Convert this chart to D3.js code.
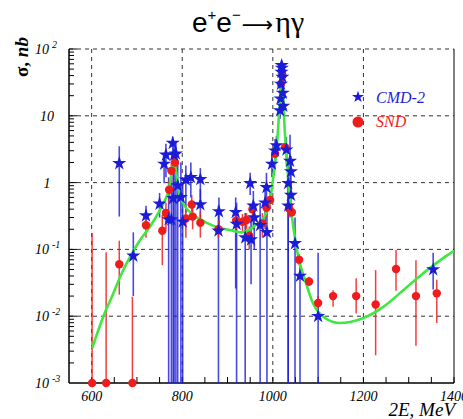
<!DOCTYPE html>
<html lang="en">
<head>
<meta charset="UTF-8">
<title>e+e- to eta gamma</title>
<script src="https://d3js.org/d3.v7.min.js"></script>
<style>
  body { margin: 0; background: #fff; }
  svg { display: block; }
  .tick-label { font-family: "Liberation Serif", serif; font-style: italic; font-size: 14px; fill: #000; }
</style>
</head>
<body>
<svg id="chart" width="463" height="419"></svg>
<script>
// CMD-2 points: energy (MeV), cross section (nb), error bar low / high (0 = down to axis)
const cmdE  = [661, 692, 720, 750, 760, 764, 770, 776, 779, 782, 786, 780, 790, 797, 801, 808, 819, 840, 840, 881, 880,
               918, 920, 939, 950, 952, 957, 959, 972, 983, 986, 987, 998, 1005, 1008,
               1016, 1017, 1018, 1019, 1019.5, 1020, 1021, 1022, 1023,
               1030, 1034, 1038, 1040, 1040, 1034, 1049, 1060, 1100, 1354];
const cmdS  = [1.94, 0.08, 0.32, 0.48, 1.9, 2.6, 0.28, 0.28, 3.9, 2.6, 2.7, 0.58, 0.9, 0.6, 0.26, 1.1, 1.2, 1.12, 0.47, 0.37, 0.19,
               0.36, 0.24, 0.15, 0.98, 0.14, 0.45, 0.30, 0.23, 0.5, 0.85, 0.18, 1.9, 3.0, 3.6,
               12, 18, 30, 45, 57, 52, 38, 22, 14,
               3.1, 0.98, 2.1, 1.46, 0.65, 0.45, 0.123, 0.04, 0.01, 0.05];
const cmdLo = [0.31, 0.02, 0.2, 0.3, 0.98, 1.2, 0, 0, 1.8, 0, 0, 0, 0, 0, 0, 0.35, 0.6, 0.58, 0.25, 0.2, 0,
               0.026, 0, 0, 0.65, 0.03, 0.2, 0.1, 0, 0.2, 0.4, 0, 1.2, 1.8, 2.4,
               9, 14, 25, 38, 50, 45, 32, 18, 11,
               1.8, 0, 1.0, 0.8, 0.3, 0, 0, 0, 0, 0.025];
const cmdHi = [3.5, 0.18, 0.45, 0.7, 2.8, 3.8, 1.2, 1.0, 4.9, 4, 4, 1.5, 2, 2, 1.0, 1.8, 2.0, 1.65, 0.8, 0.6, 0.45,
               0.6, 0.5, 0.35, 1.4, 0.3, 0.75, 0.5, 0.5, 0.85, 1.4, 0.45, 2.8, 4.5, 5,
               15, 22, 36, 52, 64, 60, 45, 27, 17,
               4.8, 2, 5.2, 2.5, 1.0, 0.9, 0.3, 0.06, 0.089, 0.089];

// SND points
const sndE  = [601, 632, 690, 661, 720, 756, 764, 771, 776, 784, 808, 821, 823, 840, 880,
               919, 933, 942, 948, 955, 977, 986, 994, 1005, 1018, 1021, 1027, 1036, 1042,
               1058, 1080, 1100, 1133, 1184, 1227, 1272, 1316, 1362];
const sndS  = [0.001, 0.001, 0.001, 0.06, 0.23, 0.19, 0.35, 0.78, 1.5, 2.0, 0.29, 0.47, 0.31, 0.25, 0.2,
               0.27, 0.26, 0.275, 0.16, 0.4, 0.245, 0.42, 0.55, 2.7, 30, 40, 3.4, 0.41, 0.36,
               0.07, 0.033, 0.0158, 0.02, 0.02, 0.015, 0.051, 0.02, 0.022];
const sndLo = [0, 0, 0, 0.021, 0.15, 0.058, 0.2, 0.5, 1.0, 1.6, 0.15, 0.3, 0.2, 0.15, 0.15,
               0.2, 0.18, 0.2, 0.1, 0.3, 0.15, 0.3, 0.4, 2.2, 26, 35, 2.8, 0.3, 0.28,
               0.058, 0.028, 0.013, 0.0138, 0.011, 0.0026, 0.024, 0.0036, 0.0079];
const sndHi = [0.176, 0.091, 0.0195, 0.135, 0.32, 0.33, 0.5, 1.1, 2.0, 2.5, 0.45, 0.65, 0.45, 0.36, 0.27,
               0.35, 0.34, 0.35, 0.22, 0.5, 0.35, 0.55, 0.75, 3.2, 34, 45, 4.0, 0.5, 0.45,
               0.085, 0.039, 0.02, 0.0245, 0.037, 0.049, 0.098, 0.069, 0.035];

// fit curve
const fitE = [601, 626, 648, 663, 685, 707, 729, 751, 762, 769, 775, 779, 782, 785, 788, 793, 800, 806, 824, 854, 883, 905,
              930, 950, 965, 980, 994, 1001, 1008, 1013, 1016, 1018, 1019.5, 1021, 1023, 1025, 1028, 1031, 1034, 1040, 1047,
              1056, 1071, 1089, 1115, 1148, 1200, 1244, 1288, 1332, 1376, 1400];
const fitS = [0.0033, 0.01, 0.022, 0.039, 0.078, 0.138, 0.22, 0.39, 0.55, 0.72, 1.2, 1.7, 2.1, 1.7, 1.2, 0.7, 0.52, 0.44, 0.33, 0.25, 0.21, 0.195,
              0.18, 0.2, 0.24, 0.3, 0.55, 1.2, 3.0, 9, 20, 42, 58, 40, 22, 9, 4, 2.4, 1.1, 0.42, 0.18,
              0.078, 0.035, 0.0155, 0.0094, 0.0079, 0.0094, 0.0138, 0.0245, 0.044, 0.074, 0.095];

const xGrid = [600, 800, 1000, 1200];
const yGrid = [0.01, 0.1, 1, 10, 100];
const xLabels = [600, 800, 1000, 1200, 1400];
const yLabels = [{v: 100, b: "10", e: "2"}, {v: 10, b: "10", e: ""}, {v: 1, b: "1", e: ""},
                 {v: 0.1, b: "10", e: "-1"}, {v: 0.01, b: "10", e: "-2"}, {v: 0.001, b: "10", e: "-3"}];

const blue = "#1c1cd8", red = "#ee1c1c", green = "#3ee83e";

const svg = d3.select("#chart");
const x = d3.scaleLinear().domain([550, 1400]).range([69, 454]);
const y = d3.scaleLog().domain([1e-3, 1e2]).range([383, 49]);
const yc = v => v <= 1e-3 ? y(1e-3) : Math.max(49, y(v));

svg.append("defs").append("clipPath").attr("id", "plot")
  .append("rect").attr("x", 69).attr("y", 49).attr("width", 385).attr("height", 334);

// grid
svg.selectAll(".gx").data(xGrid).enter().append("line")
  .attr("x1", d => x(d)).attr("x2", d => x(d)).attr("y1", 49).attr("y2", 383)
  .attr("stroke", "#333").attr("stroke-width", 1).attr("stroke-dasharray", "4,4");
svg.selectAll(".gy").data(yGrid).enter().append("line")
  .attr("x1", 69).attr("x2", 454).attr("y1", d => y(d)).attr("y2", d => y(d))
  .attr("stroke", "#333").attr("stroke-width", 1).attr("stroke-dasharray", "4,4");

// ticks
const xTicks = d3.range(600, 1401, 50);
svg.selectAll(".tx").data(xTicks).enter().append("line")
  .attr("x1", d => x(d)).attr("x2", d => x(d)).attr("y1", 383).attr("y2", 377)
  .attr("stroke", "#000");
const yTicks = [];
for (let p = -3; p < 2; p++) for (let m = 2; m <= 9; m++) yTicks.push(m * Math.pow(10, p));
svg.selectAll(".ty").data(yTicks).enter().append("line")
  .attr("x1", 69).attr("x2", 74).attr("y1", d => y(d)).attr("y2", d => y(d))
  .attr("stroke", "#000");
svg.selectAll(".tyM").data(yGrid).enter().append("line")
  .attr("x1", 69).attr("x2", 77).attr("y1", d => y(d)).attr("y2", d => y(d))
  .attr("stroke", "#000");

// frame
svg.append("line").attr("x1", 69).attr("x2", 69).attr("y1", 49).attr("y2", 383).attr("stroke", "#000").attr("stroke-width", 1.5);
svg.append("line").attr("x1", 69).attr("x2", 454).attr("y1", 383).attr("y2", 383).attr("stroke", "#000").attr("stroke-width", 1.5);
svg.append("line").attr("x1", 454).attr("x2", 454).attr("y1", 49).attr("y2", 383).attr("stroke", "#000").attr("stroke-width", 1);

const plot = svg.append("g").attr("clip-path", "url(#plot)");
const cmd = cmdE.map((e, i) => ({e, s: cmdS[i], lo: cmdLo[i], hi: cmdHi[i]}));
const snd = sndE.map((e, i) => ({e, s: sndS[i], lo: sndLo[i], hi: sndHi[i]}));

plot.selectAll(".eb").data(cmd).enter().append("line")
  .attr("x1", d => x(d.e)).attr("x2", d => x(d.e)).attr("y1", d => yc(d.lo)).attr("y2", d => yc(d.hi))
  .attr("stroke", blue).attr("stroke-opacity", 0.8).attr("stroke-width", 1.6);
plot.selectAll(".er").data(snd).enter().append("line")
  .attr("x1", d => x(d.e)).attr("x2", d => x(d.e)).attr("y1", d => yc(d.lo)).attr("y2", d => yc(d.hi))
  .attr("stroke", red).attr("stroke-opacity", 0.85).attr("stroke-width", 1.5);
svg.selectAll(".pr").data(snd).enter().append("circle")
  .attr("cx", d => x(d.e)).attr("cy", d => yc(d.s)).attr("r", 4.2).attr("fill", red);
const star = d3.symbol().type(d3.symbolStar).size(62);
svg.selectAll(".pb").data(cmd).enter().append("path")
  .attr("d", star).attr("transform", d => `translate(${x(d.e)},${yc(d.s)})`).attr("fill", blue);

// fit curve
const line = d3.line().x(d => x(d[0])).y(d => y(d[1])).curve(d3.curveMonotoneX);
plot.append("path").datum(fitE.map((e, i) => [e, fitS[i]]))
  .attr("d", line).attr("fill", "none").attr("stroke", green).attr("stroke-width", 2.6);

// tick labels
svg.selectAll(".lx").data(xLabels).enter().append("text")
  .attr("class", "tick-label").attr("x", d => x(d)).attr("y", 401).attr("text-anchor", "middle").text(d => d);
yLabels.forEach(d => {
  const t = svg.append("text").attr("class", "tick-label").attr("y", y(d.v) + 5);
  if (d.e) {
    t.attr("x", 35);
    t.append("tspan").text(d.b);
    t.append("tspan").attr("dx", 3).attr("dy", -6).attr("font-size", 10).text(d.e);
  } else {
    t.attr("x", 47).attr("text-anchor", "middle").text(d.b);
  }
});

// axis titles
svg.append("text").attr("transform", "translate(28,77) rotate(-90)")
  .attr("font-family", "Liberation Serif, serif").attr("font-size", 19).attr("font-weight", "bold")
  .text("σ, ").append("tspan").attr("font-style", "italic").text("nb");
svg.append("text").attr("x", 455).attr("y", 416).attr("text-anchor", "end")
  .attr("font-family", "Liberation Serif, serif").attr("font-style", "italic").attr("font-size", 19)
  .text("2E, MeV");

// title
const title = svg.append("text").attr("x", 192).attr("y", 32)
  .attr("font-family", "Liberation Sans, sans-serif").attr("font-size", 28);
title.append("tspan").text("e");
title.append("tspan").attr("font-size", 15).attr("dy", -12).text("+");
title.append("tspan").attr("dy", 12).text("e");
title.append("tspan").attr("font-size", 15).attr("dy", -12).text("−");
title.append("tspan").attr("dy", 12).attr("font-family", "DejaVu Sans, sans-serif").attr("font-size", 22).attr("dx", 1).text("⟶");
title.append("tspan").attr("font-family", "Liberation Serif, serif").attr("font-size", 30).attr("dx", 2).text("ηγ");

// legend
svg.append("path").attr("d", d3.symbol().type(d3.symbolStar).size(45)).attr("transform", "translate(358,97)").attr("fill", blue);
svg.append("text").attr("x", 376).attr("y", 103).attr("fill", blue)
  .attr("font-family", "Liberation Serif, serif").attr("font-style", "italic").attr("font-size", 16).text("CMD-2");
svg.append("circle").attr("cx", 358).attr("cy", 122).attr("r", 5.5).attr("fill", red);
svg.append("text").attr("x", 376).attr("y", 127).attr("fill", red)
  .attr("font-family", "Liberation Serif, serif").attr("font-style", "italic").attr("font-size", 16).text("SND");
</script>
</body>
</html>
